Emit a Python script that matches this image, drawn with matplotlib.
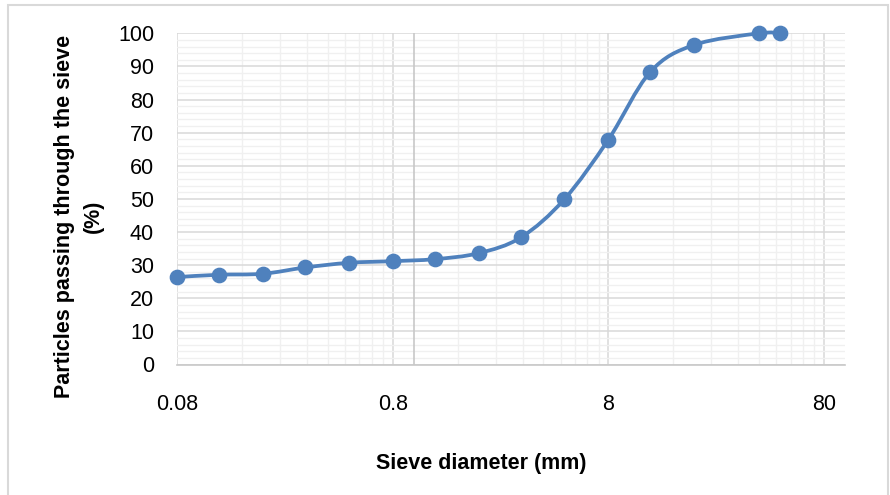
import numpy as np
import matplotlib
matplotlib.use('Agg')
import matplotlib.pyplot as plt
from matplotlib.path import Path
from matplotlib.patches import PathPatch, Rectangle
from matplotlib.ticker import FixedLocator, MultipleLocator, NullFormatter

plt.rcParams['font.family'] = ['Liberation Sans', 'DejaVu Sans']

# sieve sizes (mm) and percent passing
sieve = [0.08, 0.125, 0.2, 0.315, 0.5, 0.8, 1.25, 2, 3.15, 5, 8, 12.5, 20, 40, 50]
passing = [26.4, 27.1, 27.4, 29.3, 30.7, 31.2, 31.8, 33.6, 38.4, 49.9, 67.9, 88.3, 96.5, 100, 100]
xticks = [0.08, 0.8, 8, 80]
xtick_labels = ['0.08', '0.8', '8', '80']

blue = '#4F81BD'

fig = plt.figure(figsize=(8.9, 4.95), dpi=100)
ax = fig.add_axes([177/890, 1 - 364.5/495, (845-177)/890, (364.5-33.3)/495])

# smoothed line like excel (catmull-rom bezier in log-x space)
lx = np.log10(sieve)
py = np.array(passing, dtype=float)
pts = np.column_stack([lx, py])
verts = [pts[0]]
codes = [Path.MOVETO]
n = len(pts)
for i in range(n - 1):
    p0 = pts[i - 1] if i > 0 else pts[i]
    p1 = pts[i]
    p2 = pts[i + 1]
    p3 = pts[i + 2] if i + 2 < n else pts[i + 1]
    c1 = p1 + (p2 - p0) / 6
    c2 = p2 - (p3 - p1) / 6
    verts += [c1, c2, p2]
    codes += [Path.CURVE4] * 3
verts = np.array(verts)
verts[:, 0] = 10 ** verts[:, 0]
ax.add_patch(PathPatch(Path(verts, codes), facecolor='none', edgecolor=blue,
                       lw=2.7, zorder=3, clip_on=False, capstyle='round'))
ax.plot(sieve, passing, linestyle='none', marker='o', markersize=10.3,
        color=blue, zorder=4, clip_on=False)

ax.set_xscale('log')
ax.set_xlim(0.08, 100)
ax.set_ylim(0, 100)

minor_x = [m * k for m in xticks for k in range(2, 10) if m * k < 100]
ax.xaxis.set_major_locator(FixedLocator(xticks))
ax.xaxis.set_minor_locator(FixedLocator(minor_x))
ax.set_xticklabels(xtick_labels)
ax.xaxis.set_minor_formatter(NullFormatter())
ax.yaxis.set_major_locator(MultipleLocator(10))
ax.yaxis.set_minor_locator(MultipleLocator(2))

ax.grid(which='major', color='#d9d9d9', lw=1.1)
ax.grid(which='minor', color='#f0f0f0', lw=1.0)
ax.set_axisbelow(True)
ax.axvline(1, color='#c8c8c8', lw=1.2, zorder=1)

for s in ['top', 'right', 'left']:
    ax.spines[s].set_visible(False)
ax.spines['bottom'].set_color('#c8c8c8')
ax.spines['bottom'].set_linewidth(1.2)

ax.tick_params(which='both', length=0, labelsize=15.5, colors='black')
ax.tick_params(axis='y', pad=16.5)
ax.tick_params(axis='x', pad=21)

fig.text(481/890, 1 - 464/495, 'Sieve diameter (mm)', ha='center', va='center',
         fontsize=15.5, fontweight='bold')
fig.text(79/890, 1 - 216/495, 'Particles passing through the sieve\n(%)', rotation=90,
         ha='center', va='center', multialignment='center', fontsize=15.5,
         fontweight='bold', linespacing=1.5)

fig.patches.append(Rectangle((8/890, -0.1), (888-8)/890, 0.1 + (495-5)/495,
                             transform=fig.transFigure, fill=False,
                             edgecolor='#d9d9d9', lw=1.5))

fig.savefig('out.png', dpi=100)
